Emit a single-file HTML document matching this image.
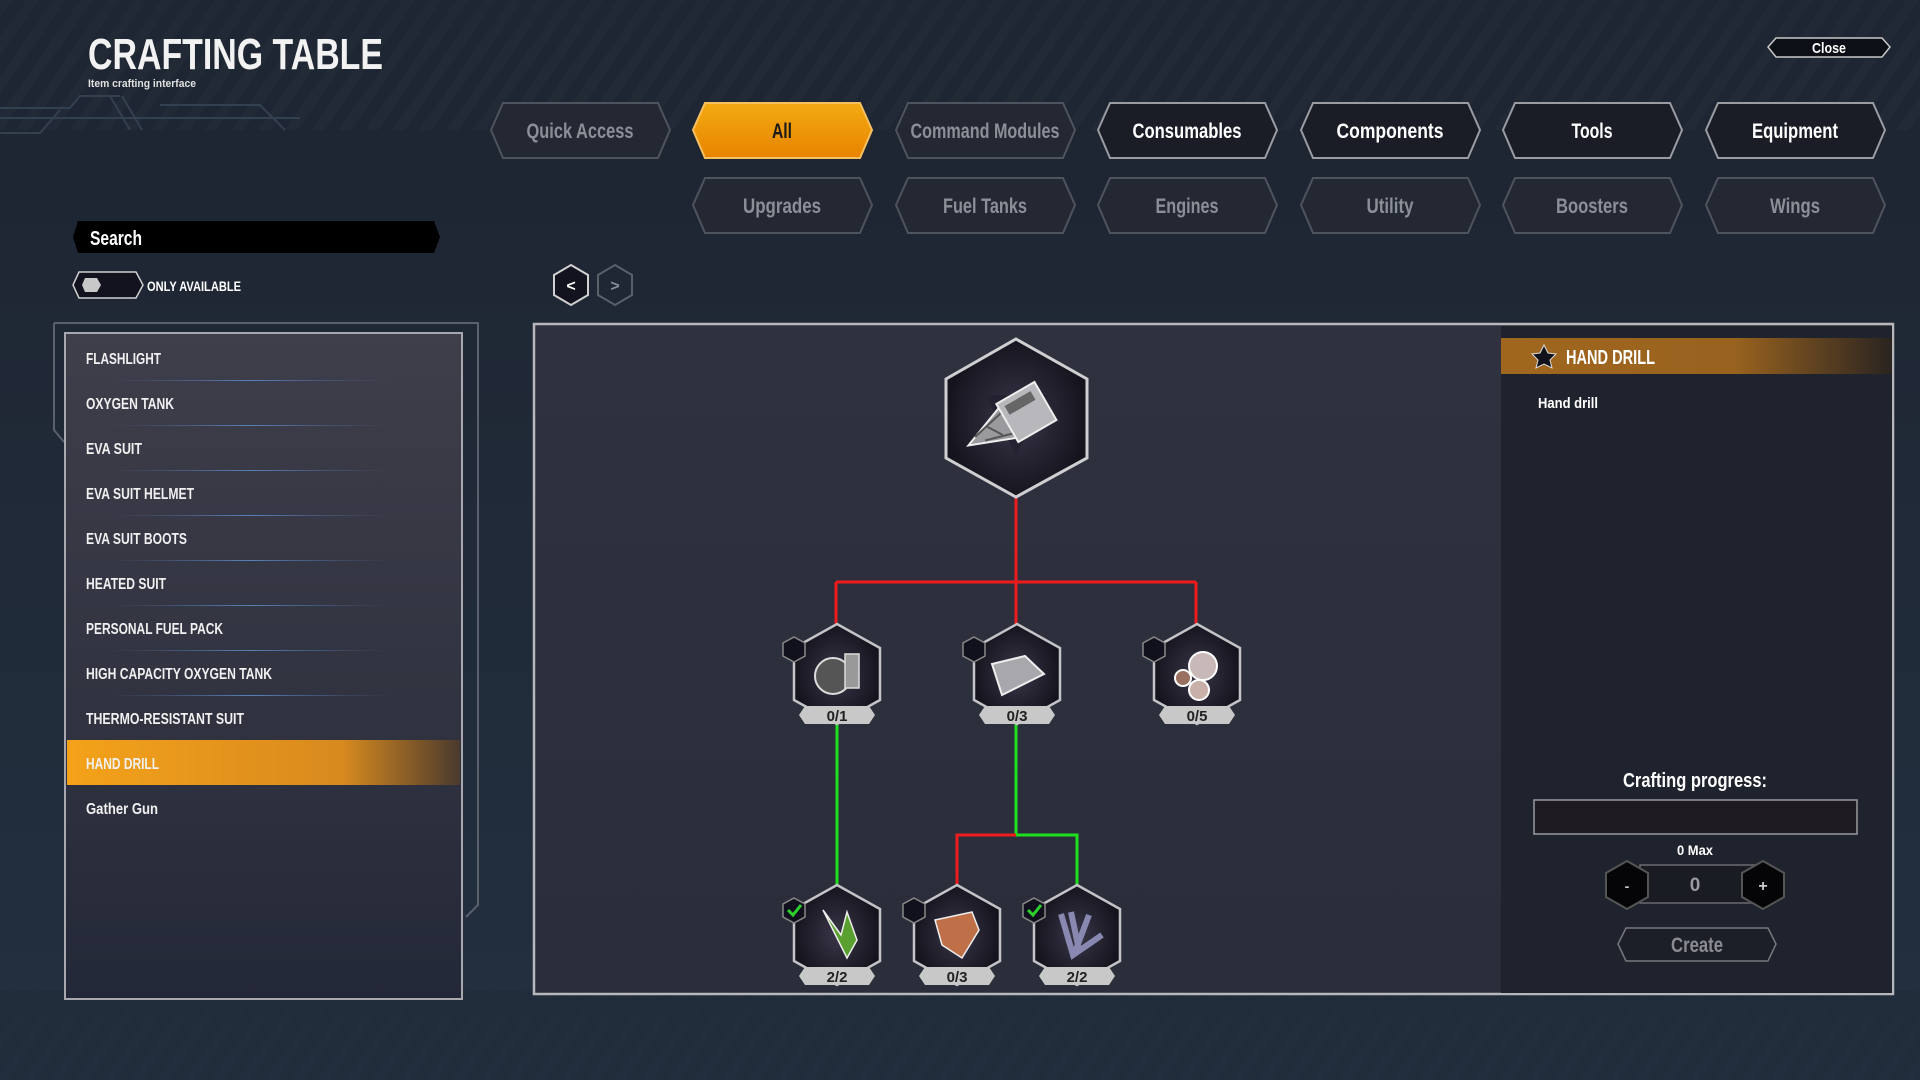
<!DOCTYPE html>
<html><head><meta charset="utf-8"><style>
html,body{margin:0;padding:0;background:#1e2633;}
svg{display:block}
text{font-family:"Liberation Sans Narrow","Liberation Sans",sans-serif;font-weight:bold}
</style></head><body>
<svg width="1920" height="1080" viewBox="0 0 1920 1080" xmlns="http://www.w3.org/2000/svg">
<defs>
<pattern id="stripes" width="22" height="22" patternUnits="userSpaceOnUse" patternTransform="rotate(35)">
<rect width="22" height="22" fill="#1f2633"/><rect width="10" height="22" fill="#232a37"/></pattern>
<linearGradient id="bgv" x1="0" y1="0" x2="0" y2="1"><stop offset="0" stop-color="#1e2430"/><stop offset="1" stop-color="#223040"/></linearGradient>
<linearGradient id="orange" x1="0" y1="0" x2="0" y2="1"><stop offset="0" stop-color="#f2aa12"/><stop offset="1" stop-color="#e88400"/></linearGradient>
<linearGradient id="sel" x1="0" y1="0" x2="1" y2="0"><stop offset="0" stop-color="#f4a21a"/><stop offset="0.7" stop-color="#d88a1e"/><stop offset="1" stop-color="#4a3a2e"/></linearGradient>
<linearGradient id="hdr" x1="0" y1="0" x2="1" y2="0"><stop offset="0" stop-color="#a0661e"/><stop offset="0.6" stop-color="#98621f"/><stop offset="1" stop-color="#2a2420"/></linearGradient>
<linearGradient id="list" x1="0" y1="0" x2="0" y2="1"><stop offset="0" stop-color="#3f3e4b"/><stop offset="0.6" stop-color="#30323f"/><stop offset="1" stop-color="#232838"/></linearGradient>
<linearGradient id="main" x1="0" y1="0" x2="0" y2="1"><stop offset="0" stop-color="#2f323e"/><stop offset="1" stop-color="#2a2e3a"/></linearGradient>
<radialGradient id="hexbg"><stop offset="0" stop-color="#3a3648"/><stop offset="1" stop-color="#15141e"/></radialGradient>
<linearGradient id="sep" x1="0" y1="0" x2="1" y2="0"><stop offset="0" stop-color="#4a6a9a" stop-opacity="0"/><stop offset="0.5" stop-color="#5a80b8"/><stop offset="1" stop-color="#4a6a9a" stop-opacity="0"/></linearGradient>
</defs>
<rect width="1920" height="1080" fill="url(#bgv)"/>
<rect width="1920" height="130" fill="url(#stripes)" opacity="0.9"/>
<rect y="990" width="1920" height="90" fill="url(#stripes)" opacity="0.35"/>
<g stroke="#33404f" stroke-width="2" fill="none">
<path d="M0 108 H70 L80 96 H120"/><path d="M0 118 H300 M0 133 H40 L60 110"/>
<path d="M110 96 L130 130 M122 96 L142 130"/><path d="M160 105 H260 L285 130"/>
</g>
<text x="88" y="69" font-size="44" fill="#f2f2f2" textLength="295" lengthAdjust="spacingAndGlyphs">CRAFTING TABLE</text>
<text x="88" y="87" font-size="11" fill="#e0e0e0" textLength="108" lengthAdjust="spacingAndGlyphs">Item crafting interface</text>
<polygon points="1776,38 1882,38 1890,47 1882,57 1776,57 1768,47" fill="#0d0f16" stroke="#c8c8c8" stroke-width="1.5"/>
<text x="1829" y="53" font-size="15" fill="#fff" text-anchor="middle" textLength="34" lengthAdjust="spacingAndGlyphs">Close</text>
<g font-size="21" text-anchor="middle">
<polygon points="503,103 658,103 670,130 658,158 503,158 491,130" fill="#232833" stroke="#4e535e" stroke-width="2"/><text x="580" y="138" fill="#8b8f98" textLength="107" lengthAdjust="spacingAndGlyphs">Quick Access</text>
<polygon points="705,103 860,103 872,130 860,158 705,158 693,130" fill="url(#orange)" stroke="#f6c060" stroke-width="2"/><text x="782" y="138" fill="#1a1a1a" textLength="20" lengthAdjust="spacingAndGlyphs">All</text>
<polygon points="908,103 1063,103 1075,130 1063,158 908,158 896,130" fill="#232833" stroke="#4e535e" stroke-width="2"/><text x="985" y="138" fill="#8b8f98" textLength="149" lengthAdjust="spacingAndGlyphs">Command Modules</text>
<polygon points="1110,103 1265,103 1277,130 1265,158 1110,158 1098,130" fill="#1a1d26" stroke="#9a9ca2" stroke-width="2"/><text x="1187" y="138" fill="#fff" textLength="109" lengthAdjust="spacingAndGlyphs">Consumables</text>
<polygon points="1313,103 1468,103 1480,130 1468,158 1313,158 1301,130" fill="#1a1d26" stroke="#9a9ca2" stroke-width="2"/><text x="1390" y="138" fill="#fff" textLength="107" lengthAdjust="spacingAndGlyphs">Components</text>
<polygon points="1515,103 1670,103 1682,130 1670,158 1515,158 1503,130" fill="#1a1d26" stroke="#9a9ca2" stroke-width="2"/><text x="1592" y="138" fill="#fff" textLength="41" lengthAdjust="spacingAndGlyphs">Tools</text>
<polygon points="1718,103 1873,103 1885,130 1873,158 1718,158 1706,130" fill="#1a1d26" stroke="#9a9ca2" stroke-width="2"/><text x="1795" y="138" fill="#fff" textLength="86" lengthAdjust="spacingAndGlyphs">Equipment</text>
<polygon points="705,178 860,178 872,205 860,233 705,233 693,205" fill="#232833" stroke="#4e535e" stroke-width="2"/><text x="782" y="213" fill="#8b8f98" textLength="78" lengthAdjust="spacingAndGlyphs">Upgrades</text>
<polygon points="908,178 1063,178 1075,205 1063,233 908,233 896,205" fill="#232833" stroke="#4e535e" stroke-width="2"/><text x="985" y="213" fill="#8b8f98" textLength="84" lengthAdjust="spacingAndGlyphs">Fuel Tanks</text>
<polygon points="1110,178 1265,178 1277,205 1265,233 1110,233 1098,205" fill="#232833" stroke="#4e535e" stroke-width="2"/><text x="1187" y="213" fill="#8b8f98" textLength="63" lengthAdjust="spacingAndGlyphs">Engines</text>
<polygon points="1313,178 1468,178 1480,205 1468,233 1313,233 1301,205" fill="#232833" stroke="#4e535e" stroke-width="2"/><text x="1390" y="213" fill="#8b8f98" textLength="47" lengthAdjust="spacingAndGlyphs">Utility</text>
<polygon points="1515,178 1670,178 1682,205 1670,233 1515,233 1503,205" fill="#232833" stroke="#4e535e" stroke-width="2"/><text x="1592" y="213" fill="#8b8f98" textLength="72" lengthAdjust="spacingAndGlyphs">Boosters</text>
<polygon points="1718,178 1873,178 1885,205 1873,233 1718,233 1706,205" fill="#232833" stroke="#4e535e" stroke-width="2"/><text x="1795" y="213" fill="#8b8f98" textLength="50" lengthAdjust="spacingAndGlyphs">Wings</text>
</g>
<polygon points="78,221 434,221 440,237 434,253 78,253 73,237" fill="#000"/>
<text x="90" y="245" font-size="20" fill="#fff" textLength="52" lengthAdjust="spacingAndGlyphs">Search</text>
<polygon points="79,272 136,272 143,285 136,298 79,298 73,285" fill="#13131f" stroke="#d0d0d0" stroke-width="1.5"/>
<polygon points="85,278 97,278 101,285 97,292 85,292 82,285" fill="#c8c8c8"/>
<text x="147" y="291" font-size="14" fill="#fff" textLength="94" lengthAdjust="spacingAndGlyphs">ONLY AVAILABLE</text>
<polygon points="571,265 588,275 588,295 571,305 554,295 554,275" fill="#13131f" stroke="#d0d0d0" stroke-width="2"/>
<text x="571" y="291" font-size="16" fill="#fff" text-anchor="middle">&lt;</text>
<polygon points="615,265 632,275 632,295 615,305 598,295 598,275" fill="none" stroke="#5a5f68" stroke-width="2"/>
<text x="615" y="291" font-size="16" fill="#8a8f98" text-anchor="middle">&gt;</text>
<path d="M54 323 H478 V905 L466 917 M54 323 V430 L64 442" fill="none" stroke="#5a606c" stroke-width="2"/>
<rect x="65" y="333" width="397" height="666" fill="url(#list)" stroke="#a8a8ae" stroke-width="2"/>
<g font-size="16" fill="#f0f0f0" lengthAdjust="spacingAndGlyphs">
<text x="86" y="364" textLength="75" lengthAdjust="spacingAndGlyphs">FLASHLIGHT</text><rect x="110" y="380" width="280" height="1" fill="url(#sep)"/>
<text x="86" y="409" textLength="88" lengthAdjust="spacingAndGlyphs">OXYGEN TANK</text><rect x="110" y="425" width="280" height="1" fill="url(#sep)"/>
<text x="86" y="454" textLength="56" lengthAdjust="spacingAndGlyphs">EVA SUIT</text><rect x="110" y="470" width="280" height="1" fill="url(#sep)"/>
<text x="86" y="499" textLength="108" lengthAdjust="spacingAndGlyphs">EVA SUIT HELMET</text><rect x="110" y="515" width="280" height="1" fill="url(#sep)"/>
<text x="86" y="544" textLength="101" lengthAdjust="spacingAndGlyphs">EVA SUIT BOOTS</text><rect x="110" y="560" width="280" height="1" fill="url(#sep)"/>
<text x="86" y="589" textLength="80" lengthAdjust="spacingAndGlyphs">HEATED SUIT</text><rect x="110" y="605" width="280" height="1" fill="url(#sep)"/>
<text x="86" y="634" textLength="137" lengthAdjust="spacingAndGlyphs">PERSONAL FUEL PACK</text><rect x="110" y="650" width="280" height="1" fill="url(#sep)"/>
<text x="86" y="679" textLength="186" lengthAdjust="spacingAndGlyphs">HIGH CAPACITY OXYGEN TANK</text><rect x="110" y="695" width="280" height="1" fill="url(#sep)"/>
<text x="86" y="724" textLength="158" lengthAdjust="spacingAndGlyphs">THERMO-RESISTANT SUIT</text>
<rect x="67" y="740" width="393" height="45" fill="url(#sel)"/>
<text x="86" y="769" textLength="73" lengthAdjust="spacingAndGlyphs">HAND DRILL</text>
<text x="86" y="814" textLength="72" lengthAdjust="spacingAndGlyphs">Gather Gun</text>
</g>
<rect x="534" y="324" width="1359" height="670" fill="url(#main)" stroke="#b8b8bc" stroke-width="2.5"/>
<rect x="1501" y="326" width="391" height="667" fill="#1f232d"/>
<rect x="1501" y="338" width="391" height="36" fill="url(#hdr)"/>
<polygon points="1544,345 1548,353 1556,354 1550,360 1552,368 1544,364 1536,368 1538,360 1532,354 1540,353" fill="#12121c" stroke="#ddd" stroke-width="1"/>
<text x="1566" y="364" font-size="20" fill="#fff" textLength="89" lengthAdjust="spacingAndGlyphs">HAND DRILL</text>
<text x="1538" y="408" font-size="15" fill="#fff" textLength="60" lengthAdjust="spacingAndGlyphs">Hand drill</text>
<text x="1695" y="787" font-size="20" fill="#fff" text-anchor="middle" textLength="144" lengthAdjust="spacingAndGlyphs">Crafting progress:</text>
<rect x="1534" y="800" width="323" height="34" fill="#1e1b22" stroke="#9a9a9e" stroke-width="1.5"/>
<text x="1695" y="855" font-size="14" fill="#fff" text-anchor="middle" textLength="36" lengthAdjust="spacingAndGlyphs">0 Max</text>
<rect x="1640" y="865" width="115" height="38" fill="#1a1c24" stroke="#6a6a70" stroke-width="1.5"/>
<text x="1695" y="891" font-size="19" fill="#9a9aa0" text-anchor="middle">0</text>
<polygon points="1627,861 1648,873 1648,897 1627,909 1606,897 1606,873" fill="#050508" stroke="#555" stroke-width="2"/>
<text x="1627" y="891" font-size="14" fill="#ccc" text-anchor="middle">-</text>
<polygon points="1763,861 1784,873 1784,897 1763,909 1742,897 1742,873" fill="#050508" stroke="#555" stroke-width="2"/>
<text x="1763" y="891" font-size="16" fill="#ccc" text-anchor="middle">+</text>
<polygon points="1626,928 1768,928 1776,944 1768,961 1626,961 1618,944" fill="#1c1f28" stroke="#77797e" stroke-width="1.5"/>
<text x="1697" y="952" font-size="21" fill="#8a8c92" text-anchor="middle" textLength="52" lengthAdjust="spacingAndGlyphs">Create</text>
<g stroke-width="3" fill="none">
<path d="M1016 497 V582 M836 582 H1196 M836 582 V624 M1016 582 V624 M1196 582 V624" stroke="#ee1c1c"/>
<path d="M837 724 V885 M1016 724 V835 H1077 V885" stroke="#1ee01e"/>
<path d="M1016 835 H957 V885" stroke="#ee1c1c"/>
</g>
<polygon points="1016,339 1087,379 1087,458 1016,497 946,458 946,379" fill="url(#hexbg)" stroke="#cfcfd2" stroke-width="3"/>
<polygon points="985,395 1048,395 1016,455" fill="#242230"/>
<g transform="translate(1016,418) rotate(-30)">
<path d="M-55 0 L-8 -18 L-8 18 Z" fill="#9a9a9e" stroke="#eee" stroke-width="2"/>
<path d="M-45 -4 L-10 -12 M-38 4 L-10 12 M-30 -8 L-20 8" stroke="#555" stroke-width="2"/>
<rect x="-10" y="-22" width="44" height="44" fill="#b8b8bc" stroke="#eee" stroke-width="2"/>
<rect x="-4" y="-16" width="30" height="10" fill="#666"/>
</g>
<g>
<g transform="translate(837,0)">
<polygon points="0,624 43,648 43,700 0,724 -43,700 -43,648" fill="url(#hexbg)" stroke="#c4c4c8" stroke-width="2.5"/>
<circle cx="-4" cy="676" r="18" fill="#555" stroke="#ddd" stroke-width="2"/><rect x="8" y="654" width="14" height="34" fill="#999" stroke="#ddd" stroke-width="1.5"/>
<polygon points="-43,637 -32,643 -32,656 -43,662 -54,656 -54,643" fill="#10111c" stroke="#888" stroke-width="1.5"/>
<polygon points="-32,706 32,706 38,715 32,724 -32,724 -38,715" fill="#c8c8c8"/>
<text x="0" y="721" font-size="15" fill="#222" text-anchor="middle">0/1</text></g>
<g transform="translate(1017,0)">
<polygon points="0,624 43,648 43,700 0,724 -43,700 -43,648" fill="url(#hexbg)" stroke="#c4c4c8" stroke-width="2.5"/>
<polygon points="-25,664 8,656 27,674 -15,695" fill="#a8a8ac" stroke="#eee" stroke-width="2"/>
<polygon points="-43,637 -32,643 -32,656 -43,662 -54,656 -54,643" fill="#10111c" stroke="#888" stroke-width="1.5"/>
<polygon points="-32,706 32,706 38,715 32,724 -32,724 -38,715" fill="#c8c8c8"/>
<text x="0" y="721" font-size="15" fill="#222" text-anchor="middle">0/3</text></g>
<g transform="translate(1197,0)">
<polygon points="0,624 43,648 43,700 0,724 -43,700 -43,648" fill="url(#hexbg)" stroke="#c4c4c8" stroke-width="2.5"/>
<circle cx="6" cy="666" r="14" fill="#c9b8b8" stroke="#fff" stroke-width="2"/><circle cx="-14" cy="678" r="8" fill="#9a7060" stroke="#fff" stroke-width="2"/><circle cx="2" cy="690" r="10" fill="#c8b0a8" stroke="#fff" stroke-width="2"/>
<polygon points="-43,637 -32,643 -32,656 -43,662 -54,656 -54,643" fill="#10111c" stroke="#888" stroke-width="1.5"/>
<polygon points="-32,706 32,706 38,715 32,724 -32,724 -38,715" fill="#c8c8c8"/>
<text x="0" y="721" font-size="15" fill="#222" text-anchor="middle">0/5</text></g>
<g transform="translate(837,0)">
<polygon points="0,885 43,909 43,961 0,985 -43,961 -43,909" fill="url(#hexbg)" stroke="#c4c4c8" stroke-width="2.5"/>
<path d="M-14 910 L10 958 L20 940 L10 912 L4 935 Z" fill="#5aa030" stroke="#eee" stroke-width="1.5"/>
<polygon points="-43,898 -32,904 -32,917 -43,923 -54,917 -54,904" fill="#10111c" stroke="#888" stroke-width="1.5"/>
<path d="M-49 910 L-44 915 L-36 905" stroke="#2ed02e" stroke-width="3" fill="none"/>
<polygon points="-32,967 32,967 38,976 32,985 -32,985 -38,976" fill="#c8c8c8"/>
<text x="0" y="982" font-size="15" fill="#222" text-anchor="middle">2/2</text></g>
<g transform="translate(957,0)">
<polygon points="0,885 43,909 43,961 0,985 -43,961 -43,909" fill="url(#hexbg)" stroke="#c4c4c8" stroke-width="2.5"/>
<polygon points="-22,920 15,912 22,930 5,958 -15,945" fill="#c07048" stroke="#eee" stroke-width="1.5"/>
<polygon points="-43,898 -32,904 -32,917 -43,923 -54,917 -54,904" fill="#10111c" stroke="#888" stroke-width="1.5"/>
<polygon points="-32,967 32,967 38,976 32,985 -32,985 -38,976" fill="#c8c8c8"/>
<text x="0" y="982" font-size="15" fill="#222" text-anchor="middle">0/3</text></g>
<g transform="translate(1077,0)">
<polygon points="0,885 43,909 43,961 0,985 -43,961 -43,909" fill="url(#hexbg)" stroke="#c4c4c8" stroke-width="2.5"/>
<path d="M-16 914 L-4 955 L25 935 M-6 912 L2 950 M12 915 L-2 952" stroke="#8888b0" stroke-width="6" fill="none"/>
<polygon points="-43,898 -32,904 -32,917 -43,923 -54,917 -54,904" fill="#10111c" stroke="#888" stroke-width="1.5"/>
<path d="M-49 910 L-44 915 L-36 905" stroke="#2ed02e" stroke-width="3" fill="none"/>
<polygon points="-32,967 32,967 38,976 32,985 -32,985 -38,976" fill="#c8c8c8"/>
<text x="0" y="982" font-size="15" fill="#222" text-anchor="middle">2/2</text></g>
</g>
</svg>
</body></html>
